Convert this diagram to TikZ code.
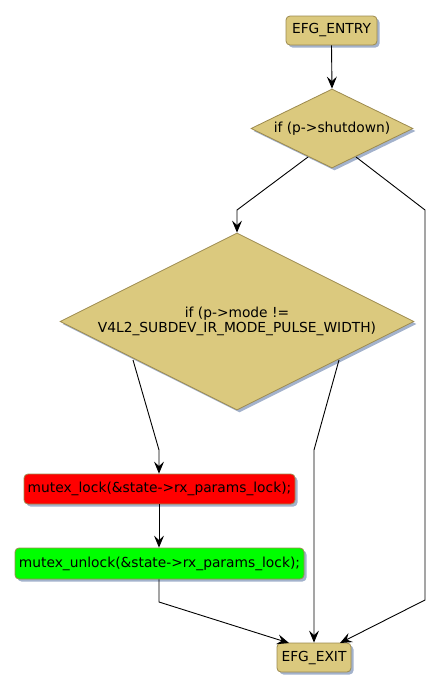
\documentclass[tikz,border=0pt]{standalone}
\usepackage{fontspec}
\setmainfont{DejaVu Sans}
\usetikzlibrary{shapes.geometric,arrows.meta,shadows}
\definecolor{khaki}{HTML}{DBC97E}
\definecolor{edgeol}{HTML}{9C8A4E}
\definecolor{shad}{HTML}{A3B2CC}
\definecolor{redfill}{HTML}{FF0000}
\definecolor{greenfill}{HTML}{00FF00}
\tikzset{
  box/.style={draw=edgeol, line width=0.8pt, rounded corners=4pt, fill=khaki, inner sep=0pt,
    font=\fontsize{13.8}{15.5}\selectfont,
    drop shadow={shadow xshift=2.5pt, shadow yshift=-2.5pt, fill=shad, opacity=1}},
  dec/.style={draw=edgeol, line width=0.8pt, diamond, fill=khaki, inner sep=0pt, aspect=2,
    font=\fontsize{13.8}{15.5}\selectfont, align=center,
    drop shadow={shadow xshift=2.5pt, shadow yshift=-2.5pt, fill=shad, opacity=1}},
  conn/.style={draw=black, line width=0.9pt, -{Stealth[length=12pt,width=10pt,inset=4.5pt]}},
}
\begin{document}
\begin{tikzpicture}[x=1pt,y=-1pt]
\useasboundingbox (0,0) rectangle (441,691);
\node[box, minimum width=91pt, minimum height=29pt] (entry) at (331.5,30.5) {EFG\_ENTRY};
\node[dec, minimum width=162pt, minimum height=79pt] (d1) at (332,128.5) {if (p->shutdown)};
\node[dec, minimum width=354pt, minimum height=177pt] (d2) at (237,321.5) {if (p->mode !=\\V4L2\_SUBDEV\_IR\_MODE\_PULSE\_WIDTH)};
\node[box, fill=redfill, minimum width=271pt, minimum height=30pt] (lock) at (159.5,489) {mutex\_lock(\&state->rx\_params\_lock);};
\node[box, fill=greenfill, minimum width=289pt, minimum height=31pt] (unlock) at (159.5,563.5) {mutex\_unlock(\&state->rx\_params\_lock);};
\node[box, minimum width=74pt, minimum height=29pt] (exit) at (314,657.5) {EFG\_EXIT};

\coordinate (a1) at (237,210);
\coordinate (b1) at (425,210);
\coordinate (b2) at (425,600);
\coordinate (c1) at (159,450);
\coordinate (e1) at (314,450);
\coordinate (f1) at (159,602);

\draw[conn] (entry.south) -- (d1.north);
\draw[conn] (308,157) -- (a1) -- (d2.north);
\draw[conn] (356,157) -- (b1) -- (b2) -- (340,643);
\draw[conn] (133,360) -- (c1) -- (lock.north -| c1);
\draw[conn] (339,360) -- (e1) -- (exit.north);
\draw[conn] (lock.south -| c1) -- (unlock.north -| c1);
\draw[conn] (unlock.south -| f1) -- (f1) -- (289,643);
\end{tikzpicture}
\end{document}
